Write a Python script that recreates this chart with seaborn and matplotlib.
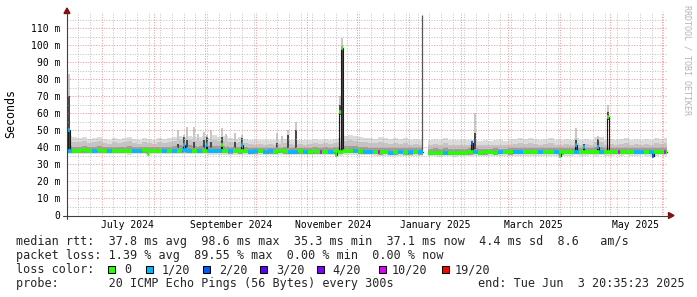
import numpy as np
import pandas as pd
import matplotlib
matplotlib.use("Agg")
import matplotlib.pyplot as plt
import matplotlib.dates as mdates
import matplotlib.transforms as mtransforms
from matplotlib.lines import Line2D
from matplotlib.patches import Rectangle, Polygon
from matplotlib.ticker import FixedLocator, FuncFormatter
import seaborn as sns

nan = np.nan

# ---------------- data ----------------
view_start = "2024-06-10 05:45"
view_days = 359.5
data_start = "2024-06-10 06:00"
data_end = "2025-06-03 20:35:23"
bin_days = 3

median_ms = [
    38.0, 37.8, 37.9, 38.1, 37.9, 38.0, 38.2, 37.9, 38.0, 37.8,
    37.9, 38.0, 37.7, 38.0, 37.9, 38.1, 37.8, 37.9, 38.0, 37.9,
    37.8, 38.0, 37.9, 38.1, 38.0, 37.8, 37.9, 38.0, 37.8, 37.7,
    37.6, 37.7, 37.5, 37.6, 37.5, 37.6, 37.4, 37.5, 37.6, 37.4,
    37.5, 37.4, 37.6, 37.5, 37.3, 37.4, 37.5, 37.3, 37.4, 37.5,
    37.3, 37.4, 37.3, 37.5, 37.2, 37.6, 37.7, 37.6, 37.5, 37.4,
    37.3, 37.0, 36.9, 37.0, 36.8, 36.9, 37.0, 36.8, 36.9, 37.0,
    36.9, nan, 36.7, 36.8, 36.6, 36.7, 36.8, 36.6, 36.7, 36.8,
    36.9, 37.0, 36.8, 36.9, 37.0, 36.8, 37.0, 37.1, 36.9, 37.1,
    37.0, 37.1, 37.2, 37.0, 37.1, 37.2, 37.0, 37.1, 37.0, 37.0,
    37.2, 37.3, 37.1, 37.2, 37.3, 37.2, 37.3, 37.1, 37.2, 37.3,
    37.2, 37.3, 37.1, 37.2, 37.3, 37.2, 37.1, 37.2, 37.3, 37.1,
]

smoke_top = [
    46.5, 46.0, 45.5, 46.0, 45.0, 45.5, 46.0, 45.0, 44.5, 45.5,
    45.0, 45.5, 46.0, 45.0, 44.5, 45.5, 45.0, 44.5, 45.5, 45.0,
    45.5, 46.0, 46.5, 46.0, 46.5, 46.0, 46.0, 46.5, 45.5, 47.0,
    46.0, 46.5, 45.5, 45.0, 46.0, 45.0, 44.5, 44.0, 44.5, 44.0,
    44.5, 44.0, 44.5, 45.0, 44.5, 44.0, 44.5, 44.0, 44.5, 45.0,
    44.5, 45.0, 44.5, 45.0, 45.5, 46.5, 47.0, 46.5, 46.0, 45.5,
    45.5, 45.0, 46.0, 45.5, 45.0, 45.5, 45.0, 45.5, 44.5, 45.0,
    44.5, nan, 44.5, 45.0, 44.0, 45.5, 44.5, 44.0, 44.5, 44.0,
    44.5, 44.0, 43.5, 44.0, 43.5, 44.5, 44.0, 43.5, 44.0, 45.0,
    45.5, 45.0, 45.5, 45.0, 44.5, 45.0, 45.5, 44.5, 44.0, 45.0,
    44.5, 45.5, 44.5, 45.0, 44.0, 46.0, 46.0, 44.5, 45.0, 44.5,
    45.0, 45.5, 44.5, 45.0, 44.5, 45.0, 44.5, 45.5, 45.0, 45.5,
]

smoke_mid = [
    43.5, 43.0, 43.0, 43.5, 42.5, 43.0, 43.5, 42.5, 42.0, 43.0,
    42.5, 43.0, 43.5, 42.5, 42.0, 43.0, 42.5, 42.0, 43.0, 42.5,
    43.0, 43.5, 44.0, 43.5, 44.0, 43.5, 43.5, 44.0, 43.0, 44.0,
    43.5, 43.5, 43.0, 42.5, 43.0, 42.5, 42.0, 41.5, 42.0, 41.5,
    42.0, 41.5, 42.0, 42.5, 42.0, 41.5, 42.0, 41.5, 42.0, 42.5,
    42.0, 42.5, 42.0, 42.5, 43.0, 43.5, 44.0, 43.5, 43.0, 43.0,
    42.5, 42.5, 43.0, 42.5, 42.0, 42.5, 42.0, 42.5, 41.5, 42.0,
    41.5, nan, 41.5, 42.0, 41.0, 42.5, 41.5, 41.0, 41.5, 41.0,
    41.5, 41.5, 41.0, 41.5, 41.0, 41.5, 41.0, 41.0, 41.5, 42.0,
    42.5, 42.0, 42.5, 42.0, 41.5, 42.0, 42.5, 41.5, 41.5, 42.0,
    41.5, 42.5, 41.5, 42.0, 41.0, 43.0, 43.0, 41.5, 42.0, 41.5,
    42.0, 42.5, 41.5, 42.0, 41.5, 42.0, 41.5, 42.5, 42.0, 42.5,
]

smoke_dark = [
    40.5, 40.3, 40.2, 40.5, 40.0, 40.3, 40.5, 40.0, 40.0, 40.3,
    40.2, 40.3, 40.5, 40.0, 40.0, 40.3, 40.2, 40.0, 40.3, 40.2,
    40.3, 40.5, 41.0, 40.8, 41.0, 40.8, 40.5, 41.0, 40.5, 40.8,
    40.5, 40.5, 40.2, 40.0, 40.3, 40.0, 39.8, 39.6, 39.8, 39.6,
    39.8, 39.6, 39.8, 40.0, 39.7, 39.6, 39.8, 39.5, 39.7, 40.0,
    39.7, 40.0, 39.7, 40.0, 40.2, 40.5, 40.8, 40.5, 40.2, 40.0,
    39.8, 39.6, 39.8, 39.6, 39.4, 39.6, 39.5, 39.6, 39.3, 39.5,
    39.3, nan, 39.2, 39.4, 39.0, 39.5, 39.2, 39.0, 39.2, 39.0,
    39.3, 39.3, 39.0, 39.2, 39.0, 39.3, 39.2, 39.1, 39.3, 39.6,
    39.8, 39.6, 39.8, 39.6, 39.5, 39.6, 39.8, 39.5, 39.4, 39.6,
    39.5, 39.8, 39.5, 39.6, 39.4, 40.0, 40.2, 39.5, 39.7, 39.5,
    39.6, 39.8, 39.5, 39.7, 39.5, 39.6, 39.4, 39.8, 39.6, 39.8,
]

smoke_low_dark = [
    36.7, 36.6, 36.7, 36.8, 36.6, 36.7, 36.8, 36.6, 36.7, 36.6,
    36.6, 36.7, 36.5, 36.7, 36.6, 36.8, 36.6, 36.6, 36.7, 36.6,
    36.6, 36.7, 36.6, 36.8, 36.7, 36.6, 36.6, 36.7, 36.5, 36.4,
    36.3, 36.4, 36.2, 36.3, 36.2, 36.3, 36.1, 36.2, 36.3, 36.1,
    36.2, 36.1, 36.3, 36.2, 36.0, 36.1, 36.2, 36.0, 36.1, 36.2,
    36.0, 36.1, 36.0, 36.2, 35.9, 36.3, 36.4, 36.3, 36.2, 36.1,
    36.0, 35.7, 35.6, 35.7, 35.5, 35.6, 35.7, 35.5, 35.6, 35.7,
    35.6, nan, 35.4, 35.5, 35.3, 35.4, 35.5, 35.3, 35.4, 35.5,
    35.6, 35.7, 35.5, 35.6, 35.7, 35.5, 35.7, 35.8, 35.6, 35.8,
    35.7, 35.8, 35.9, 35.7, 35.8, 35.9, 35.7, 35.8, 35.6, 35.7,
    35.9, 36.0, 35.8, 35.9, 36.0, 35.9, 36.0, 35.8, 35.9, 36.0,
    35.9, 36.0, 35.8, 35.9, 36.0, 35.9, 35.8, 35.9, 36.0, 35.8,
]

smoke_low_light = [
    35.8, 35.7, 35.8, 35.9, 35.7, 35.8, 35.9, 35.7, 35.8, 35.7,
    35.7, 35.8, 35.6, 35.8, 35.7, 35.9, 35.7, 35.7, 35.8, 35.7,
    35.7, 35.8, 35.7, 35.9, 35.8, 35.7, 35.7, 35.8, 35.6, 35.5,
    35.4, 35.5, 35.3, 35.4, 35.3, 35.4, 35.2, 35.3, 35.4, 35.2,
    35.3, 35.2, 35.4, 35.3, 35.1, 35.2, 35.3, 35.1, 35.2, 35.3,
    35.1, 35.2, 35.1, 35.3, 35.0, 35.4, 35.5, 35.4, 35.3, 35.2,
    35.1, 34.8, 34.7, 34.8, 34.6, 34.7, 34.8, 34.6, 34.7, 34.8,
    34.7, nan, 34.5, 34.6, 34.4, 34.5, 34.6, 34.4, 34.5, 34.6,
    34.7, 34.8, 34.6, 34.7, 34.8, 34.6, 34.8, 34.9, 34.7, 34.9,
    34.8, 34.9, 35.0, 34.8, 34.9, 35.0, 34.8, 34.9, 34.7, 34.8,
    35.0, 35.1, 34.9, 35.0, 35.1, 35.0, 35.1, 34.9, 35.0, 35.1,
    35.0, 35.1, 34.9, 35.0, 35.1, 35.0, 34.9, 35.0, 35.1, 34.9,
]

loss_code = [
    1, 0, 0, 0, 0, 1, 0, 0, 1, 0,
    0, 0, 0, 1, 1, 0, 0, 0, 0, 1,
    0, 1, 0, 1, 1, 0, 1, 0, 1, 1,
    1, 0, 1, 0, 0, 0, 1, 1, 0, 1,
    1, 0, 0, 0, 1, 1, 0, 1, 0, 0,
    0, 0, 1, 0, 0, 0, 0, 1, 0, 1,
    1, 0, 0, 0, 1, 0, 1, 0, 1, 0,
    1, 0, 0, 0, 0, 1, 0, 0, 0, 0,
    0, 1, 0, 0, 0, 0, 1, 0, 0, 1,
    1, 0, 0, 0, 1, 0, 0, 1, 0, 0,
    0, 1, 0, 0, 0, 0, 1, 0, 0, 0,
    0, 0, 0, 1, 1, 0, 1, 0, 0, 0,
]

# short events (spikes / dips / single loss marks)
spike_time = [
    "2024-06-10 13:00", "2024-07-28 03:30", "2024-08-15 08:00", "2024-08-18 15:00",
    "2024-08-20 10:30", "2024-08-24 15:30", "2024-08-27 01:00", "2024-08-30 15:30",
    "2024-09-01 10:30", "2024-09-03 18:00", "2024-09-10 15:30", "2024-09-12 17:30",
    "2024-09-18 03:00", "2024-09-22 08:00", "2024-10-13 06:00", "2024-10-16 06:00",
    "2024-10-19 20:00", "2024-10-24 15:30", "2024-11-08 15:00", "2024-11-17 13:00",
    "2024-11-19 22:00", "2024-11-21 03:00", "2024-12-13 07:00", "2025-02-06 22:30",
    "2025-02-08 10:30", "2025-03-31 20:00", "2025-04-10 03:30", "2025-04-14 22:30",
    "2025-04-23 08:00", "2025-04-29 13:00", "2025-05-06 01:00", "2025-05-26 05:45",
    "2025-06-02 09:30",
]
spike_median = [
    50.0, 36.0, nan, 41.0,
    nan, nan, nan, nan,
    41.0, nan, 41.0, nan,
    nan, 41.0, nan, nan,
    nan, nan, 37.3, 35.5,
    61.0, 98.6, 37.0, 42.5,
    nan, 34.5, 41.5, 40.0,
    40.0, 58.0, 37.2, 34.8,
    37.2,
]
spike_loss = [
    1, 0, 0, 1,
    0, 0, 0, 0,
    1, 0, 0, 0,
    0, 1, 0, 0,
    0, 0, 10, 0,
    0, 0, 10, 2,
    0, 0, 1, 1,
    1, 0, 10, 2,
    10,
]
spike_low = [
    38.0, nan, 39.5, 37.5,
    39.5, 39.5, 40.0, 39.5,
    37.5, 39.5, 37.5, 40.0,
    39.5, 37.5, 39.5, 40.0,
    39.5, 39.5, nan, nan,
    59.0, 37.5, nan, 37.0,
    39.0, nan, 37.5, 37.5,
    37.5, 56.0, nan, nan,
    nan,
]
spike_dark = [
    70.0, nan, 42.0, 46.0,
    44.0, 43.0, nan, 44.0,
    46.0, 43.0, 46.0, nan,
    43.0, 45.5, 42.5, nan,
    47.0, 50.0, nan, nan,
    65.0, 98.6, nan, 43.0,
    48.5, nan, 44.0, 42.0,
    45.0, 61.0, nan, nan,
    nan,
]
spike_top = [
    83.0, nan, 50.0, 47.0,
    52.0, 52.0, 48.0, 49.0,
    47.0, 50.0, 51.5, 48.0,
    48.5, 47.0, 48.5, 46.5,
    50.0, 55.0, nan, nan,
    70.0, 104.5, nan, 44.5,
    60.0, nan, 51.5, nan,
    46.5, 65.0, nan, nan,
    nan,
]

rule_time = "2025-01-08 20:00"
rule_range = [37.0, 118.0]

loss_levels = [0, 1, 2, 3, 4, 10, 19]
loss_labels = ["0", "1/20", "2/20", "3/20", "4/20", "10/20", "19/20"]
loss_colors = ["#26ff00", "#00b8ff", "#0059ff", "#5e00ff", "#7e00ff", "#dd00ff", "#ff0000"]

y_ticks = [0, 10, 20, 30, 40, 50, 60, 70, 80, 90, 100, 110]
y_minor = [5, 15, 25, 35, 45, 55, 65, 75, 85, 95, 105, 115]
x_label_text = ["July 2024", "September 2024", "November 2024",
                "January 2025", "March 2025", "May 2025"]
x_label_time = ["2024-07-16 06:00", "2024-09-16 06:00", "2024-11-16 06:00",
                "2025-01-16 06:00", "2025-03-16 06:00", "2025-05-16 06:00"]

stat_line1 = "median rtt:  37.8 ms avg  98.6 ms max  35.3 ms min  37.1 ms now  4.4 ms sd  8.6   am/s"
stat_line2 = "packet loss: 1.39 % avg  89.55 % max  0.00 % min  0.00 % now"
stat_line3 = "loss color:"
stat_line4 = "probe:       20 ICMP Echo Pings (56 Bytes) every 300s"
stat_end = "end: Tue Jun  3 20:35:23 2025"
y_title = "Seconds"
watermark = "RRDTOOL / TOBI OETIKER"

# ---------------- drawing ----------------
W, H, DPI = 697, 297, 100
sns.set_theme(style="white")
plt.rcParams['font.family'] = ['DejaVu Sans Mono', 'DejaVu Sans']

fig = plt.figure(figsize=(W / DPI, H / DPI), dpi=DPI, facecolor="white")


def fx(px):
    return px / W


def fy(py):
    return 1 - py / H


AX_L, AX_R, AX_T, AX_B = 67, 668, 12, 215
ax = fig.add_axes([fx(AX_L), fy(AX_B), (AX_R - AX_L) / W, (AX_B - AX_T) / H])
ax.set_facecolor("white")
for s in ax.spines.values():
    s.set_visible(False)

t0 = mdates.date2num(pd.Timestamp(view_start))

A = lambda a: np.array(a, dtype=float)
med = A(median_ms)
top, mid, dark = A(smoke_top), A(smoke_mid), A(smoke_dark)
lowd, lowl = A(smoke_low_dark), A(smoke_low_light)
loss = np.array(loss_code)
cmap = dict(zip(loss_levels, loss_colors))

bins = pd.date_range(data_start, periods=len(med), freq=f"{bin_days}D")
bx = mdates.date2num(bins)
end_num = mdates.date2num(pd.Timestamp(data_end))
bw = np.minimum(bin_days, end_num - bx)
ok = ~np.isnan(med)

# base smoke
for lo, hi, col in [(lowl, top, "#dcdcdc"), (lowd, mid, "#c4c4c4"), (lowd, dark, "#9c9c9c")]:
    ax.bar(bx[ok], hi[ok] - lo[ok], bottom=lo[ok], width=bw[ok], align="edge",
           color=col, linewidth=0, antialiased=False, zorder=1)

# spike smoke
st = mdates.date2num(pd.to_datetime(spike_time))
sw = 1.2
s_med, s_low, s_dark, s_top = A(spike_median), A(spike_low), A(spike_dark), A(spike_top)
m = ~np.isnan(s_top)
ax.bar(st[m], s_top[m] - s_low[m], bottom=s_low[m], width=sw, align="edge",
       color="#c8c8c8", linewidth=0, antialiased=False, zorder=1.5)
m = ~np.isnan(s_dark)
ax.bar(st[m], s_dark[m] - s_low[m], bottom=s_low[m], width=sw, align="edge",
       color="#4a4a4a", linewidth=0, antialiased=False, zorder=1.6)

# rule line at the data gap
ax.vlines(mdates.date2num(pd.Timestamp(rule_time)), rule_range[0], rule_range[1],
          colors="#555555", linewidth=0.9, zorder=3)

# thin dark median line (steps) via seaborn
seg_of_bin = np.cumsum(np.isnan(med))
rows = []
for i in range(len(med)):
    if np.isnan(med[i]):
        continue
    rows.append((bx[i], med[i], seg_of_bin[i]))
    if i == len(med) - 1 or np.isnan(med[i + 1]):
        rows.append((bx[i] + bw[i], med[i], seg_of_bin[i]))
for k in range(len(st)):
    if np.isnan(s_med[k]):
        continue
    j0 = int((st[k] - bx[0]) // bin_days)
    j1 = min(int((st[k] + sw - bx[0]) // bin_days), len(med) - 1)
    rows.append((st[k], s_med[k], seg_of_bin[j0]))
    rows.append((st[k] + sw, med[j1], seg_of_bin[j0]))
mdf = pd.DataFrame(rows, columns=["t", "ms", "seg"]).sort_values(["seg", "t"])
sns.lineplot(data=mdf, x="t", y="ms", units="seg", estimator=None, sort=False,
             drawstyle="steps-post", color="#1a1a1a", linewidth=0.8, ax=ax,
             legend=False, zorder=3)
ax.set_xlabel("")
ax.set_ylabel("")

# loss-coloured median
ax.hlines(med[ok], bx[ok], bx[ok] + bw[ok], colors=[cmap[int(c)] for c in loss[ok]],
          linewidth=2.6, zorder=4)
m = ~np.isnan(s_med)
ax.hlines(s_med[m], st[m], st[m] + sw, colors=[cmap[int(c)] for c in np.array(spike_loss)[m]],
          linewidth=2.6, zorder=5)

ax.set_xlim(t0, t0 + view_days)
ax.set_ylim(0, 119.7)

# grid (dotted, drawn over the smoke like rrdtool)
ax.xaxis.set_major_locator(mdates.MonthLocator())
ax.xaxis.set_minor_locator(mdates.WeekdayLocator(byweekday=mdates.MO))
ax.yaxis.set_major_locator(FixedLocator(y_ticks))
ax.yaxis.set_minor_locator(FixedLocator(y_minor))
ax.yaxis.set_major_formatter(FuncFormatter(lambda v, p: "0" if v == 0 else f"{int(round(v))} m"))
ax.set_axisbelow(False)
ax.grid(True, which="minor", color="#b8b8b8", linestyle=(0, (1, 1.6)),
        linewidth=0.72, alpha=0.9)
ax.grid(True, which="major", color="#ec8a8a", linestyle=(0, (1, 1.6)),
        linewidth=0.72, alpha=0.9)
ax.tick_params(axis="x", which="both", length=0, labelbottom=False)
ax.tick_params(axis="y", which="major", length=2.2, width=0.72, color="#404040",
               direction="out", pad=2.6, labelsize=7, labelcolor="black")
ax.tick_params(axis="y", which="minor", length=1.4, width=0.72, color="#404040",
               direction="out")

# x labels
blend = mtransforms.blended_transform_factory(ax.transData, fig.transFigure)
for lab, t in zip(x_label_text, x_label_time):
    ax.text(mdates.date2num(pd.Timestamp(t)), fy(227.5), lab, transform=blend,
            ha="center", va="baseline", fontsize=7, color="black", clip_on=False)

# axes lines and arrows
axis_col = "#404040"
arrow_col = "#801010"
fig.add_artist(Line2D([fx(63), fx(669)], [fy(215.5), fy(215.5)], color=axis_col,
                      linewidth=0.8, transform=fig.transFigure))
fig.add_artist(Line2D([fx(67), fx(67)], [fy(219), fy(12)], color=axis_col,
                      linewidth=0.8, transform=fig.transFigure))
fig.add_artist(Polygon([(fx(668.5), fy(212.5)), (fx(668.5), fy(218.5)), (fx(674), fy(215.5))],
                       closed=True, color=arrow_col, transform=fig.transFigure))
fig.add_artist(Polygon([(fx(64), fy(13.5)), (fx(70), fy(13.5)), (fx(67), fy(8))],
                       closed=True, color=arrow_col, transform=fig.transFigure))

# titles / watermark
fig.text(fx(10.8), fy(113.5), y_title, rotation=90, ha="center", va="center",
         fontsize=8.4, color="black")
fig.text(fx(687.5), fy(60), watermark, rotation=270, ha="center", va="center",
         fontsize=6, color="#b4b4b4")

# legend text
FS = 8.5
fig.text(fx(16), fy(245.5), stat_line1, fontsize=FS, va="baseline", ha="left")
fig.text(fx(16), fy(259.3), stat_line2, fontsize=FS, va="baseline", ha="left")
fig.text(fx(16), fy(273.2), stat_line3, fontsize=FS, va="baseline", ha="left")
fig.text(fx(16), fy(286.8), stat_line4, fontsize=FS, va="baseline", ha="left")
fig.text(fx(477.5), fy(286.8), stat_end, fontsize=FS, va="baseline", ha="left")

sq_x = [108.3, 145.7, 202.7, 260.0, 316.7, 379.0, 442.3]
tx_x = [124.0, 162.0, 219.0, 275.8, 332.5, 391.5, 454.5]
for sx, tx, lab, col in zip(sq_x, tx_x, loss_labels, loss_colors):
    fig.add_artist(Rectangle((fx(sx), fy(273.3)), 7.0 / W, 7.4 / H, facecolor=col,
                             edgecolor="black", linewidth=0.75, transform=fig.transFigure))
    fig.text(fx(tx), fy(273.2), lab, fontsize=FS, va="baseline", ha="left")

fig.savefig("out.png", dpi=DPI, facecolor="white")
